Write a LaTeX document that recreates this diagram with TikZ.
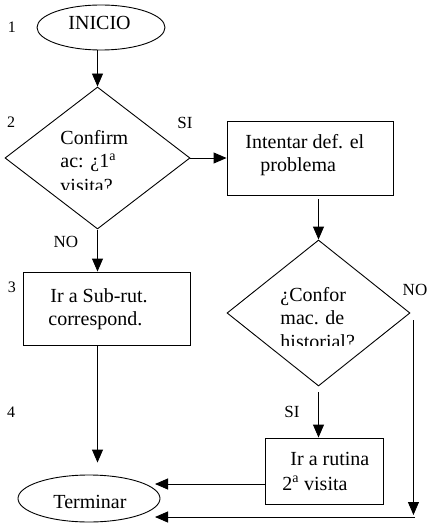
\documentclass[tikz,border=0pt]{standalone}
\usepackage{fontspec}
\setmainfont{Liberation Serif}
\usetikzlibrary{shapes.geometric,arrows.meta}

\begin{document}
\begin{tikzpicture}[x=1pt,y=-1pt,line width=0.9pt,
  arr/.style={-{Triangle[length=13pt,width=11pt]}},
  outline/.style={draw,line width=0.9pt,inner sep=0pt},
  txt/.style={font=\fontsize{20}{22}\selectfont,inner sep=0pt,anchor=base west},
  lbl/.style={font=\fontsize{17}{17}\selectfont,inner sep=0pt},
  num/.style={font=\fontsize{16}{16}\selectfont,inner sep=0pt}]
\useasboundingbox (0,0) rectangle (433,526);

% shapes
\node[outline,ellipse,minimum width=128pt,minimum height=45pt] (ini) at (101,27.5) {};
\node[outline,diamond,minimum width=185pt,minimum height=142pt] (d1) at (97.5,158) {};
\node[outline,rectangle,minimum width=166pt,minimum height=74pt] (b1) at (310,158) {};
\node[outline,rectangle,minimum width=167pt,minimum height=73pt] (b3) at (106.5,308.5) {};
\node[outline,diamond,minimum width=183pt,minimum height=146pt] (d2) at (318.5,313) {};
\node[outline,rectangle,minimum width=118pt,minimum height=66pt] (b4) at (324,471) {};
\node[outline,ellipse,minimum width=142pt,minimum height=47pt] (tm) at (89,498.5) {};

% texts
\node[txt] (tini) at (68,30) {INICIO};
\node[txt] (ttm) at (53,508) {Terminar};
% the last line of each question is cut off by its text frame
\begin{scope}
  \clip (40,110) rectangle (160,189.5);
  \node[txt] (td1a) at (60,145) {Confirm};
  \node[txt] (td1b) at (60,168) {ac: ¿1\textsuperscript{a}};
  \node[txt] (td1c) at (60,193) {visita?};
\end{scope}
\node[txt] (tb1a) at (245,149) {Intentar def. el};
\node[txt] (tb1b) at (260,172) {problema};
\node[txt] (tb3a) at (50,302) {Ir a Sub-rut.};
\node[txt] (tb3b) at (48,325) {correspond.};
\begin{scope}
  \clip (260,270) rectangle (380,345);
  \node[txt] (td2a) at (280,301) {¿Confor};
  \node[txt] (td2b) at (280,324) {mac. de};
  \node[txt] (td2c) at (280,348) {historial?};
\end{scope}
\node[txt] (tb4a) at (290,465) {Ir a rutina};
\node[txt] (tb4b) at (282,490) {2\textsuperscript{a} visita};

% step numbers and branch labels
\node[num] (n1) at (12,27) {1};
\node[num] (n2) at (11,122) {2};
\node[num] (n3) at (12,287) {3};
\node[num] (n4) at (11,412) {4};
\node[lbl] (si1) at (185,123) {SI};
\node[lbl] (no1) at (66,242) {NO};
\node[lbl] (no2) at (415,290) {NO};
\node[lbl] (si2) at (292,412) {SI};

% free ends of the connectors into Terminar
\coordinate (e1) at (155,484);
\coordinate (e2) at (155,517);
\coordinate (nr) at (413,517);

% connectors
\draw[arr] (d1.north |- ini.south) -- (d1.north);
\draw[arr] (d1.east) -- (b1.west |- d1.east);
\draw[arr,shorten <=4pt] (d2.north |- b1.south) -- (d2.north);
\draw[arr,shorten <=1pt] (d1.south) -- (d1.south |- b3.north);
\draw[arr,shorten >=12pt] (d1.south |- b3.south) -- (d1.south |- tm.north);
\draw[arr,shorten <=6pt] (d2.south) -- (d2.south |- b4.north);
\draw[arr] (b4.west |- e1) -- (e1);
\draw[arr,shorten <=7pt,shorten >=2pt] ([xshift=3pt]d2.east) -- ([xshift=3pt]d2.east |- nr);
\draw[arr] ([xshift=2pt]nr) -- (e2);
\end{tikzpicture}
\end{document}
